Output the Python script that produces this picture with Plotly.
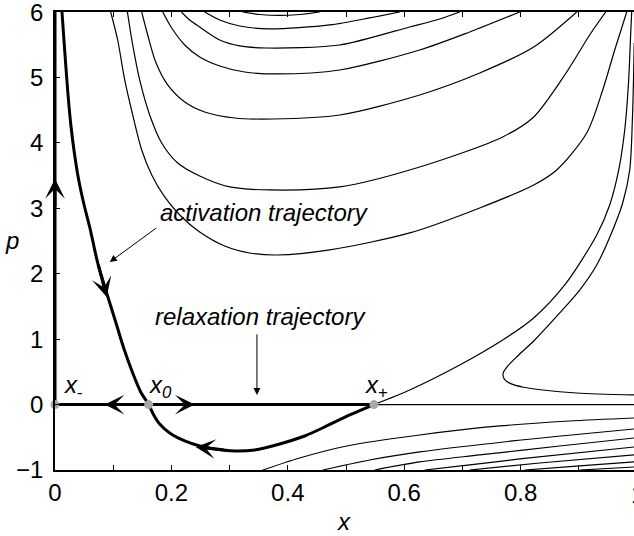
import plotly.graph_objects as go

# ---------------- data (x, p) ----------------
x_minus, x_zero, x_plus = 0.0, 0.161, 0.548

# U-shaped contours (top region), left top -> right top
u1_x = [0.0957, 0.1077, 0.1198, 0.1335, 0.1490, 0.1662, 0.1885, 0.2143, 0.2486, 0.2916, 0.3345, 0.3809, 0.4720, 0.6094, 0.7297, 0.8225, 0.8620, 0.9136, 0.9411, 0.9617, 0.9823]
u1_p = [6.0, 5.572, 4.961, 4.426, 3.891, 3.509, 3.173, 2.898, 2.638, 2.424, 2.317, 2.286, 2.363, 2.623, 3.005, 3.356, 3.586, 4.151, 4.808, 5.420, 6.0]

u2_x = [0.1244, 0.1335, 0.1455, 0.1627, 0.1833, 0.2108, 0.2486, 0.3002, 0.3689, 0.4892, 0.6266, 0.7692, 0.8225, 0.8758, 0.9187, 0.9462]
u2_p = [6.0, 5.496, 4.961, 4.426, 3.998, 3.693, 3.494, 3.326, 3.280, 3.326, 3.631, 4.090, 4.396, 5.037, 5.649, 6.0]

u3_x = [0.1490, 0.1593, 0.1730, 0.1936, 0.2229, 0.2572, 0.3088, 0.3741, 0.4892, 0.6266, 0.7297, 0.8225, 0.8964]
u3_p = [6.0, 5.649, 5.236, 4.885, 4.625, 4.472, 4.380, 4.365, 4.426, 4.732, 5.068, 5.465, 6.0]

u4_x = [0.1851, 0.2005, 0.2229, 0.2486, 0.2830, 0.3259, 0.3809, 0.4892, 0.6266, 0.7125, 0.7985]
u4_p = [6.0, 5.756, 5.496, 5.313, 5.175, 5.083, 5.053, 5.114, 5.420, 5.695, 6.0]

u5_x = [0.2172, 0.2314, 0.2486, 0.2830, 0.3174, 0.3637, 0.4892, 0.6094, 0.6610, 0.6954]
u5_p = [6.0, 5.878, 5.771, 5.572, 5.481, 5.450, 5.496, 5.771, 5.893, 6.0]

u6_x = [0.2572, 0.2830, 0.3174, 0.3689, 0.4720, 0.5407, 0.5923]
u6_p = [6.0, 5.878, 5.786, 5.741, 5.802, 5.909, 6.0]

u7_x = [0.3225, 0.3515, 0.3862, 0.4205, 0.4548]
u7_p = [6.0, 5.962, 5.947, 5.962, 6.0]

# zero-energy continuation from x+ towards the upper right
sep_x = [0.548, 0.6094, 0.6954, 0.7692, 0.8225, 0.8758, 0.9308, 0.9531, 0.9686, 0.9789, 0.9857, 0.9892, 0.9909]
sep_p = [0.0, 0.223, 0.605, 0.987, 1.324, 1.828, 2.592, 3.051, 3.586, 4.197, 4.961, 5.679, 6.0]

# right lobe contour
lobe_x = [0.9952, 0.9926, 0.9875, 0.9754, 0.9548, 0.9308, 0.9015, 0.8672, 0.8242, 0.7950, 0.7780, 0.7700, 0.7720, 0.7830, 0.8050, 0.8380, 0.8964, 0.9950]
lobe_p = [5.527, 4.503, 3.586, 3.081, 2.592, 2.134, 1.751, 1.400, 0.987, 0.743, 0.590, 0.480, 0.390, 0.320, 0.265, 0.223, 0.177, 0.147]

# contours below p = 0
l1_x = [0.3569, 0.4204, 0.5012, 0.6266, 0.7641, 0.8844, 0.9950]
l1_p = [-1.0, -0.816, -0.633, -0.465, -0.327, -0.251, -0.205]
l2_x = [0.4600, 0.5407, 0.6266, 0.7864, 0.9950]
l2_p = [-1.0, -0.847, -0.724, -0.556, -0.373]
l3_x = [0.5493, 0.6266, 0.7297, 0.8672, 0.9950]
l3_p = [-1.0, -0.877, -0.770, -0.633, -0.511]
l4_x = [0.6352, 0.7125, 0.7985, 0.9950]
l4_p = [-1.0, -0.923, -0.831, -0.648]
l5_x = [0.7125, 0.8328, 0.9950]
l5_p = [-1.0, -0.893, -0.770]
l6_x = [0.8070, 0.9015, 0.9950]
l6_p = [-1.0, -0.938, -0.877]
l7_x = [0.9015, 0.9950]
l7_p = [-1.0, -0.954]

# activation trajectory (thick): from top down to x0, then lower branch to x+
act_x = [0.0120, 0.0150, 0.0184, 0.0225, 0.0275, 0.0335, 0.0410, 0.0500, 0.0596, 0.0734, 0.0888, 0.1043, 0.1180, 0.1335, 0.1473, 0.161,
         0.1696, 0.1799, 0.1971, 0.2229, 0.2486, 0.2744, 0.3088, 0.3431, 0.3861, 0.4291, 0.4668, 0.5064, 0.548]
act_p = [6.0, 5.62, 5.20, 4.72, 4.25, 3.83, 3.42, 3.05, 2.714, 2.164, 1.706, 1.262, 0.865, 0.483, 0.193, 0.0,
         -0.159, -0.297, -0.434, -0.556, -0.633, -0.679, -0.709, -0.694, -0.602, -0.480, -0.327, -0.159, 0.0]

# arrowheads on thick trajectories: (tip x, tip p, tail x, tail p)
flow_arrows = [
    (0.0, 3.45, 0.0, 3.0),
    (0.0888, 1.645, 0.0734, 2.164),
    (0.0854, 0.0, 0.13, 0.0),
    (0.240, 0.0, 0.20, 0.0),
    (0.2418, -0.648, 0.2919, -0.694),
]

x_ticks = [0, 0.2, 0.4, 0.6, 0.8]
x_last_tick = 1
p_ticks = [-1, 0, 1, 2, 3, 4, 5, 6]

FONT = "Liberation Sans"
X_MAX = 579 / 582
P_MIN, P_MAX = -1, 6

fig = go.Figure()

thin = [(u1_x, u1_p), (u2_x, u2_p), (u3_x, u3_p), (u4_x, u4_p), (u5_x, u5_p), (u6_x, u6_p), (u7_x, u7_p),
        (sep_x, sep_p), (lobe_x, lobe_p),
        (l1_x, l1_p), (l2_x, l2_p), (l3_x, l3_p), (l4_x, l4_p), (l5_x, l5_p), (l6_x, l6_p), (l7_x, l7_p),
        ([x_plus, 1.0], [0.0, 0.0])]
for xs, ps in thin:
    fig.add_trace(go.Scatter(x=xs, y=ps, mode="lines",
                             line=dict(color="black", width=1.2, shape="spline", smoothing=0.8),
                             hoverinfo="skip", showlegend=False))

# thick trajectories
fig.add_trace(go.Scatter(x=[x_minus, x_minus], y=[0, 6], mode="lines", cliponaxis=False,
                         line=dict(color="black", width=3), hoverinfo="skip", showlegend=False))
fig.add_trace(go.Scatter(x=[x_minus, x_plus], y=[0, 0], mode="lines", cliponaxis=False,
                         line=dict(color="black", width=3), hoverinfo="skip", showlegend=False))
fig.add_trace(go.Scatter(x=act_x, y=act_p, mode="lines",
                         line=dict(color="black", width=3, shape="spline", smoothing=0.8),
                         hoverinfo="skip", showlegend=False))

# fixed points
fig.add_trace(go.Scatter(x=[x_minus, x_zero, x_plus], y=[0, 0, 0], mode="markers", cliponaxis=False,
                         marker=dict(color="#a8a8a8", size=9), hoverinfo="skip", showlegend=False))

ann = []
for tx, tp, sx, sp in flow_arrows:
    ann.append(dict(x=tx, y=tp, ax=sx, ay=sp, xref="x", yref="y", axref="x", ayref="y",
                    text="", showarrow=True, arrowhead=3, arrowsize=1.1, arrowwidth=3,
                    arrowcolor="black", standoff=0))

tf = dict(family=FONT, size=24, color="black")
ann += [
    dict(x=0.1765, y=2.93, xref="x", yref="y", text="<i>activation trajectory</i>",
         showarrow=False, xanchor="left", yanchor="middle", font=tf),
    dict(x=0.0941, y=2.179, ax=0.1765, ay=2.714, xref="x", yref="y", axref="x", ayref="y",
         text="", showarrow=True, arrowhead=2, arrowsize=1.4, arrowwidth=1, arrowcolor="black", standoff=0),
    dict(x=0.1678, y=1.34, xref="x", yref="y", text="<i>relaxation trajectory</i>",
         showarrow=False, xanchor="left", yanchor="middle", font=tf),
    dict(x=0.347, y=0.147, ax=0.347, ay=1.096, xref="x", yref="y", axref="x", ayref="y",
         text="", showarrow=True, arrowhead=2, arrowsize=1.4, arrowwidth=1, arrowcolor="black", standoff=0),
    dict(x=0.0115, y=0.27, xref="x", yref="y", text="<i>x</i><sub>-</sub>",
         showarrow=False, xanchor="left", yanchor="middle", font=tf),
    dict(x=0.158, y=0.27, xref="x", yref="y", text="<i>x</i><sub><i>0</i></sub>",
         showarrow=False, xanchor="left", yanchor="middle", font=tf),
    dict(x=0.529, y=0.27, xref="x", yref="y", text="<i>x</i><sub>+</sub>",
         showarrow=False, xanchor="left", yanchor="middle", font=tf),
    dict(x=0.499, y=-0.113, xref="paper", yref="paper", text="<i>x</i>",
         showarrow=False, xanchor="center", yanchor="middle", font=tf),
    dict(x=-0.074, y=0.502, xref="paper", yref="paper", text="<i>p</i>",
         showarrow=False, xanchor="center", yanchor="middle", font=tf),
    # last x tick label, sitting just past the window edge like the reference
    dict(x=x_last_tick / X_MAX, y=0, xref="paper", yref="paper", text=f"{x_last_tick}", yshift=-9,
         showarrow=False, xanchor="center", yanchor="top", font=tf),
    # top p tick label (plotly drops the label at the very end of the range)
    dict(x=0, y=(p_ticks[-1] - P_MIN) / (P_MAX - P_MIN), xref="paper", yref="paper", text=f"{p_ticks[-1]}",
         xshift=-10, showarrow=False, xanchor="right", yanchor="middle", font=tf),
]

fig.update_layout(
    width=634, height=536, autosize=False,
    margin=dict(l=55, r=0, t=12, b=66, autoexpand=False),
    plot_bgcolor="white", paper_bgcolor="white",
    font=dict(family=FONT, size=24, color="black"),
    annotations=ann,
    showlegend=False,
)
fig.update_xaxes(range=[0, X_MAX], tickvals=x_ticks, ticktext=[f"{v:g}" for v in x_ticks],
                 ticks="inside", ticklen=5, tickwidth=1.2, tickcolor="black", automargin=False,
                 showline=True, linecolor="black", linewidth=1.5, mirror="ticks",
                 showgrid=False, zeroline=False,
                 minor=dict(dtick=0.1, tick0=0, ticks="inside", ticklen=5, tickwidth=1.2, tickcolor="black", showgrid=False))
fig.update_yaxes(range=[P_MIN, P_MAX], tickvals=p_ticks[:-1],
                 ticks="inside", ticklen=5, tickwidth=1.2, tickcolor="black", ticklabelstandoff=5,
                 showline=True, linecolor="black", linewidth=1.5, mirror=False, automargin=False,
                 showgrid=False, zeroline=False)

post = ("document.body.style.margin='0';document.body.style.padding='0';"
        "document.body.style.overflow='hidden';"
        "document.documentElement.style.overflow='hidden';"
        "var gd=document.getElementById('{plot_id}');"
        "Plotly.relayout(gd,{width:634,height:536});")

fig.write_html("out.html", config={"responsive": False, "displayModeBar": False}, post_script=post)
